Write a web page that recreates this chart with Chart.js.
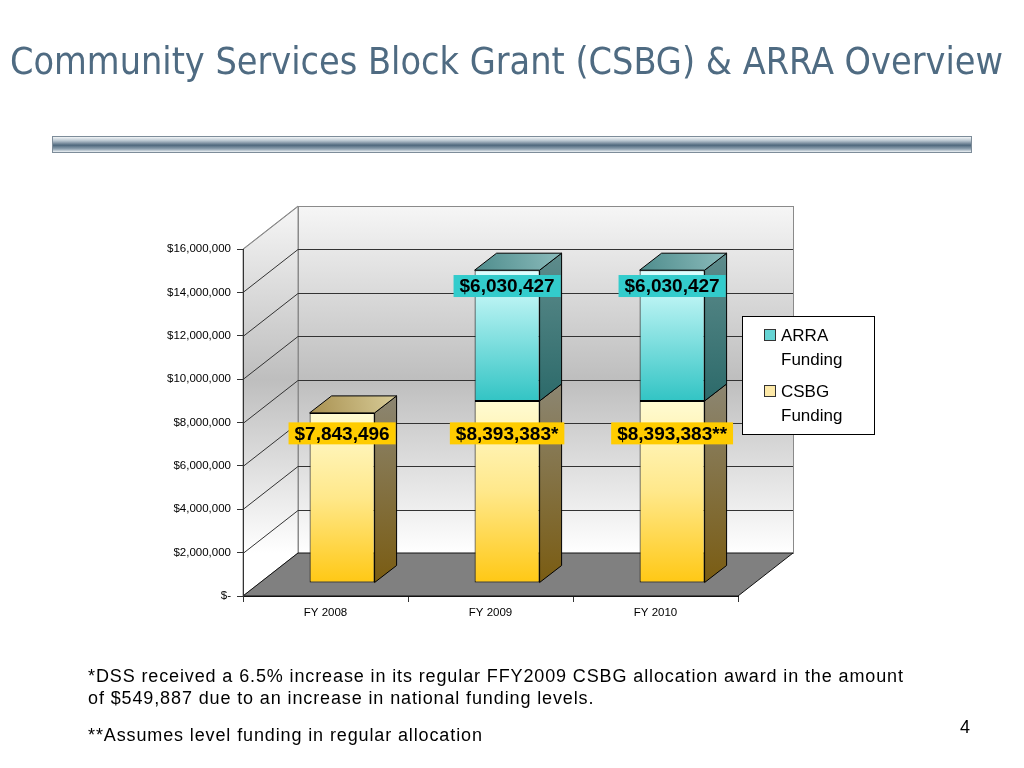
<!DOCTYPE html>
<html>
<head>
<meta charset="utf-8">
<script src="https://cdn.jsdelivr.net/npm/chart.js@4.4.0/dist/chart.umd.min.js"></script>
<style>
  html, body { margin: 0; padding: 0; background: #fff; }
  body { width: 1024px; height: 768px; position: relative; overflow: hidden; font-family: "Liberation Sans", Arial, sans-serif; }
  #title { position: absolute; left: 10px; top: 43px; line-height: 1; white-space: nowrap; font-family: "DejaVu Sans Condensed", "DejaVu Sans", sans-serif; font-size: 37px; color: #4f6b82; transform-origin: 0 0; }
  #rule { position: absolute; left: 52px; top: 136px; width: 918px; height: 15px; border: 1px solid #7d8c99;
          background: linear-gradient(#f2f5f7, #b8c5cf 25%, #4f687d 55%, #8fa2b1 80%, #eef2f5); }
  .note { position: absolute; left: 88px; font-size: 18px; line-height: 1; letter-spacing: 0.88px; color: #000; white-space: nowrap; }
  #page { position: absolute; left: 960px; top: 718px; font-size: 18px; line-height: 1; }
  canvas { position: absolute; left: 0; top: 0; }
</style>
</head>
<body>
<canvas id="grantChart" width="1024" height="768"></canvas>
<div id="title">Community Services Block Grant (CSBG) &amp; ARRA Overview</div>
<div id="rule"></div>
<div class="note" style="top:667px">*DSS received a 6.5% increase in its regular FFY2009 CSBG allocation award in the amount</div>
<div class="note" style="top:689px">of $549,887 due to an increase in national funding levels.</div>
<div class="note" style="top:726px">**Assumes level funding in regular allocation</div>
<div id="page">4</div>

<script>
// данные графика
const categories = ['FY 2008', 'FY 2009', 'FY 2010'];
const csbgFunding = [7843496, 8393383, 8393383];
const arraFunding = [null, 6030427, 6030427];
const csbgLabels = ['$7,843,496', '$8,393,383*', '$8,393,383**'];
const arraLabels = [null, '$6,030,427', '$6,030,427'];
const yMin = 0, yMax = 16000000, yStep = 2000000;

// глубина стенок и брусков (px)
const WALL_DX = 55, WALL_DY = 43;
const BAR_SHIFT_X = 16.6, BAR_SHIFT_Y = 13;
const BAR_DX = 22, BAR_DY = 17;

const CSBG_FRONT = [[0, '#fffbd2'], [0.5, '#ffe88a'], [1, '#ffc814']];
const CSBG_SIDE = [[0, '#8c8672'], [1, '#7a5c12']];
const CSBG_TOP = ['#a89050', '#d8cc98'];
const ARRA_FRONT = [[0, '#dcffff'], [1, '#32c4c4']];
const ARRA_SIDE = [[0, '#5e8c8c'], [1, '#2c6a6a']];
const ARRA_TOP = ['#4e8c8c', '#8cbcbc'];

function vGradient(ctx, y0, y1, stops) {
  const g = ctx.createLinearGradient(0, y0, 0, y1);
  stops.forEach(([o, c]) => g.addColorStop(o, c));
  return g;
}

// верх и низ сегмента в пикселях
function segmentRange(chart, di, i) {
  const y = chart.scales.y;
  const base = di === 0 ? 0 : csbgFunding[i];
  const top = base + (di === 0 ? csbgFunding[i] : (arraFunding[i] || 0));
  return [y.getPixelForValue(top), y.getPixelForValue(base)];
}

function frontColor(stops, fallback) {
  return (c) => {
    const chart = c.chart;
    if (!chart.chartArea || !chart.scales.y) return fallback;
    const [t, b] = segmentRange(chart, c.datasetIndex, c.dataIndex);
    return vGradient(chart.ctx, t, b, stops);
  };
}

// стенки и пол
const wallsPlugin = {
  id: 'walls',
  beforeDraw(chart) {
    const { ctx, chartArea: a, scales: { y } } = chart;
    const wallGrad = vGradient(ctx, a.top - WALL_DY, a.bottom - WALL_DY,
      [[0, '#f6f6f6'], [0.5, '#bebebe'], [1, '#ffffff']]);
    ctx.save();
    ctx.lineWidth = 1;
    // задняя стенка
    ctx.fillStyle = wallGrad;
    ctx.fillRect(a.left + WALL_DX, a.top - WALL_DY, a.right - a.left, a.bottom - a.top);
    ctx.strokeStyle = '#8a8a8a';
    ctx.strokeRect(a.left + WALL_DX + 0.5, a.top - WALL_DY + 0.5, a.right - a.left, a.bottom - a.top);
    // левая стенка
    ctx.beginPath();
    ctx.moveTo(a.left, a.top);
    ctx.lineTo(a.left + WALL_DX, a.top - WALL_DY);
    ctx.lineTo(a.left + WALL_DX, a.bottom - WALL_DY);
    ctx.lineTo(a.left, a.bottom);
    ctx.closePath();
    ctx.fill();
    ctx.stroke();
    // линии сетки
    ctx.strokeStyle = '#333';
    for (let v = yMin + yStep; v < yMax; v += yStep) {
      const py = Math.round(y.getPixelForValue(v)) + 0.5;
      ctx.beginPath();
      ctx.moveTo(a.left, py);
      ctx.lineTo(a.left + WALL_DX, py - WALL_DY);
      ctx.lineTo(a.right + WALL_DX, py - WALL_DY);
      ctx.stroke();
    }
    ctx.strokeStyle = '#8a8a8a';
    const pt = Math.round(y.getPixelForValue(yMax)) + 0.5;
    ctx.beginPath();
    ctx.moveTo(a.left, pt);
    ctx.lineTo(a.left + WALL_DX, pt - WALL_DY);
    ctx.stroke();
    // пол
    ctx.beginPath();
    ctx.moveTo(a.left, a.bottom);
    ctx.lineTo(a.right, a.bottom);
    ctx.lineTo(a.right + WALL_DX, a.bottom - WALL_DY);
    ctx.lineTo(a.left + WALL_DX, a.bottom - WALL_DY);
    ctx.closePath();
    ctx.fillStyle = '#808080';
    ctx.fill();
    ctx.strokeStyle = '#111';
    ctx.stroke();
    ctx.restore();
  }
};

function drawLabel(ctx, text, x, y, bg) {
  ctx.font = 'bold 19px "Liberation Sans", Arial, sans-serif';
  const w = ctx.measureText(text).width + 12;
  ctx.fillStyle = bg;
  ctx.fillRect(x - w / 2, y - 11, w, 22);
  ctx.fillStyle = '#000';
  ctx.textAlign = 'center';
  ctx.textBaseline = 'middle';
  ctx.fillText(text, x, y + 1);
}

// объёмные бруски
const bars3dPlugin = {
  id: 'bars3d',
  beforeDatasetsDraw(chart) {
    chart.ctx.save();
    chart.ctx.translate(BAR_SHIFT_X, -BAR_SHIFT_Y);
  },
  afterDatasetsDraw(chart) {
    const ctx = chart.ctx;
    const y = chart.scales.y;
    const sides = [CSBG_SIDE, ARRA_SIDE];
    const tops = [CSBG_TOP, ARRA_TOP];
    ctx.lineWidth = 1;
    ctx.strokeStyle = '#000';
    ctx.lineJoin = 'round';
    categories.forEach((cat, i) => {
      const topDi = arraFunding[i] != null ? 1 : 0;
      chart.data.datasets.forEach((ds, di) => {
        if (ds.data[i] == null) return;
        const el = chart.getDatasetMeta(di).data[i];
        const { x, y: top, base, width } = el.getProps(['x', 'y', 'base', 'width'], true);
        const left = x - width / 2, right = x + width / 2;
        // боковая грань
        ctx.beginPath();
        ctx.moveTo(right, top);
        ctx.lineTo(right + BAR_DX, top - BAR_DY);
        ctx.lineTo(right + BAR_DX, base - BAR_DY);
        ctx.lineTo(right, base);
        ctx.closePath();
        ctx.fillStyle = vGradient(ctx, top - BAR_DY, base, sides[di]);
        ctx.fill();
        ctx.stroke();
        // верхняя грань
        if (di === topDi) {
          ctx.beginPath();
          ctx.moveTo(left, top);
          ctx.lineTo(left + BAR_DX, top - BAR_DY);
          ctx.lineTo(right + BAR_DX, top - BAR_DY);
          ctx.lineTo(right, top);
          ctx.closePath();
          const g = ctx.createLinearGradient(left, top, right + BAR_DX, top - BAR_DY);
          g.addColorStop(0, tops[di][0]);
          g.addColorStop(1, tops[di][1]);
          ctx.fillStyle = g;
          ctx.fill();
          ctx.stroke();
        }
      });
    });
    // подписи значений
    categories.forEach((cat, i) => {
      const x = chart.getDatasetMeta(0).data[i].x;
      drawLabel(ctx, csbgLabels[i], x, y.getPixelForValue(6900000), '#ffcc00');
      if (arraLabels[i]) {
        const total = csbgFunding[i] + arraFunding[i];
        drawLabel(ctx, arraLabels[i], x, y.getPixelForValue(total - 730000), '#33cccc');
      }
    });
    ctx.restore();
  }
};

// легенда в две строки
const legendPlugin = {
  id: 'legend2',
  afterDraw(chart) {
    const ctx = chart.ctx;
    ctx.save();
    ctx.fillStyle = '#fff';
    ctx.fillRect(742, 316, 132, 118);
    ctx.strokeStyle = '#000';
    ctx.lineWidth = 1;
    ctx.strokeRect(742.5, 316.5, 132, 118);
    ctx.font = '17px "Liberation Sans", Arial, sans-serif';
    ctx.textBaseline = 'alphabetic';
    ctx.textAlign = 'left';
    const items = chart.data.datasets.slice().reverse();
    items.forEach((ds, k) => {
      const top = 329 + k * 56;
      ctx.fillStyle = ds.legendColor;
      ctx.fillRect(764, top, 11, 11);
      ctx.strokeStyle = '#333';
      ctx.strokeRect(764.5, top + 0.5, 11, 11);
      ctx.fillStyle = '#000';
      ds.label.split(' ').forEach((word, j) => {
        ctx.fillText(word, 781, top + 12 + j * 24);
      });
    });
    ctx.restore();
  }
};

const ctx = document.getElementById('grantChart').getContext('2d');
const grantChart = new Chart(ctx, {
  type: 'bar',
  data: {
    labels: categories,
    datasets: [
      {
        label: 'CSBG Funding',
        data: csbgFunding,
        backgroundColor: frontColor(CSBG_FRONT, '#ffe88a'),
        legendColor: '#fde9a8',
        borderColor: '#000',
        borderWidth: 1,
        borderSkipped: false,
        barPercentage: 0.394,
        categoryPercentage: 1,
        clip: false
      },
      {
        label: 'ARRA Funding',
        data: arraFunding,
        backgroundColor: frontColor(ARRA_FRONT, '#66dddd'),
        legendColor: '#66d4d4',
        borderColor: '#000',
        borderWidth: 1,
        borderSkipped: false,
        barPercentage: 0.394,
        categoryPercentage: 1,
        clip: false
      }
    ]
  },
  options: {
    responsive: false,
    animation: false,
    layout: { padding: { left: 0, top: 249, right: 286, bottom: 0 } },
    scales: {
      x: {
        stacked: true,
        afterFit: (s) => { s.height = 172; },
        grid: { drawOnChartArea: false, tickLength: 6, color: '#333', offset: true },
        border: { color: '#111' },
        ticks: { color: '#000', padding: 4, font: { family: '"Liberation Sans", Arial', size: 11.5 } }
      },
      y: {
        stacked: true,
        min: yMin,
        max: yMax,
        afterFit: (s) => { s.width = 243; },
        grid: { drawOnChartArea: false, tickLength: 6, color: '#333' },
        border: { color: '#333' },
        ticks: {
          stepSize: yStep,
          color: '#000',
          padding: 6,
          font: { family: '"Liberation Sans", Arial', size: 11.5 },
          callback: (v) => v === 0 ? '$-' : '$' + v.toLocaleString('en-US')
        }
      }
    },
    plugins: {
      legend: { display: false },
      tooltip: { enabled: false }
    }
  },
  plugins: [wallsPlugin, bars3dPlugin, legendPlugin]
});

// подгонка заголовка по ширине
const title = document.getElementById('title');
title.style.transform = 'scaleX(' + (993 / title.getBoundingClientRect().width) + ')';
</script>
</body>
</html>
